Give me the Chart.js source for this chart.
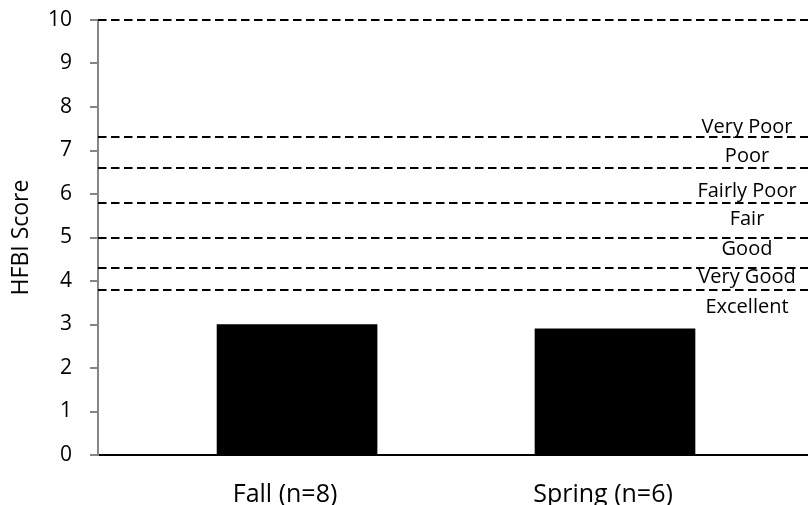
<!DOCTYPE html>
<html>
<head>
<meta charset="utf-8">
<script src="https://cdn.jsdelivr.net/npm/chart.js@4"></script>
<style>
  body { margin: 0; background: #fff; }
  #wrap { width: 808px; height: 505px; }
</style>
</head>
<body>
<div id="wrap"><canvas id="myChart"></canvas></div>
<script>
const categories = ["Fall (n=8)", "Spring (n=6)"];
const scores = [3.0, 2.9];
const yTicks = [0, 1, 2, 3, 4, 5, 6, 7, 8, 9, 10];

// class boundaries (dashed lines) and the class names written between them
const boundaries = [3.8, 4.3, 5.0, 5.8, 6.6, 7.3, 10];
const classNames = ["Excellent", "Very Good", "Good", "Fair", "Fairly Poor", "Poor", "Very Poor"];
const classLabelAt = [3.39, 4.08, 4.72, 5.41, 6.07, 6.86, 7.54];

const FONT = "'Open Sans'";

const classLines = {
    id: "classLines",
    afterDraw(chart) {
        const ctx = chart.ctx;
        const y = chart.scales.y;
        const area = chart.chartArea;
        ctx.save();
        ctx.strokeStyle = "#000";
        ctx.lineWidth = 2;
        ctx.setLineDash([8.5, 4.5]);
        boundaries.forEach(v => {
            const py = Math.round(y.getPixelForValue(v));
            ctx.beginPath();
            ctx.moveTo(area.left, py);
            ctx.lineTo(area.right, py);
            ctx.stroke();
        });
        ctx.setLineDash([]);
        ctx.fillStyle = "#000";
        ctx.font = "20px " + FONT;
        ctx.textAlign = "center";
        ctx.textBaseline = "middle";
        classNames.forEach((name, i) => {
            ctx.fillText(name, 747, y.getPixelForValue(classLabelAt[i]));
        });
        ctx.restore();
    }
};

const myChart = new Chart("myChart", {
    type: "bar",
    data: {
        datasets: [
            {
                data: categories.map((c, i) => ({ x: i, y: scores[i] })),
                backgroundColor: "#000",
                borderWidth: 0,
                barThickness: 160
            }
        ]
    },
    options: {
        responsive: true,
        maintainAspectRatio: false,
        animation: false,
        layout: { padding: { top: 20, left: 0, right: 0, bottom: 0 } },
        plugins: {
            legend: { display: false },
            tooltip: { enabled: false }
        },
        scales: {
            x: {
                type: "linear",
                offset: false,
                min: -0.626,
                max: 1.607,
                afterBuildTicks: (scale) => {
                    scale.ticks = categories.map((c, i) => ({ value: i }));
                },
                afterFit: (scale) => {
                    scale.height = 50;
                    scale.paddingLeft = 0;
                    scale.paddingRight = 0;
                },
                grid: { drawOnChartArea: false, drawTicks: false },
                border: { color: "#000", width: 2 },
                ticks: {
                    color: "#000",
                    font: { family: FONT, size: 25 },
                    padding: 25,
                    labelOffset: -12,
                    maxRotation: 0,
                    callback: (v) => categories[v]
                }
            },
            y: {
                min: 0,
                max: 10,
                afterBuildTicks: (scale) => {
                    scale.ticks = yTicks.map(v => ({ value: v }));
                },
                afterFit: (scale) => {
                    scale.width = 98;
                    scale.paddingTop = 0;
                    scale.paddingBottom = 0;
                },
                grid: {
                    drawOnChartArea: false,
                    drawTicks: true,
                    tickLength: 8,
                    color: "#868686",
                    lineWidth: 2
                },
                border: { color: "#868686", width: 2 },
                ticks: {
                    color: "#000",
                    font: { family: FONT, size: 21 },
                    padding: 18
                },
                title: {
                    display: true,
                    text: "HFBI Score",
                    color: "#000",
                    font: { family: FONT, size: 23 },
                    padding: { top: 8, bottom: 0 }
                }
            }
        }
    },
    plugins: [classLines]
});
</script>
</body>
</html>
